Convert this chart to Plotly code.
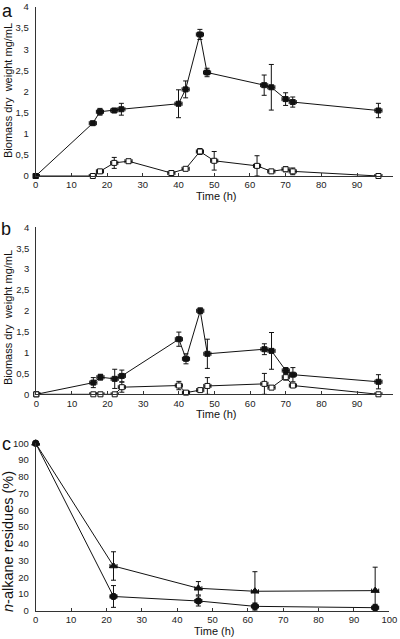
import plotly.graph_objects as go

# ---------------- data ----------------
time_a_black = [0, 16, 18, 22, 24, 40, 42, 46, 48, 64, 66, 70, 72, 96]
a_black = [0, 1.25, 1.52, 1.55, 1.58, 1.71, 2.05, 3.35, 2.45, 2.15, 2.10, 1.82, 1.75, 1.55]
a_black_err = [0, 0.04, 0.08, 0.05, 0.14, 0.33, 0.20, 0.12, 0.10, 0.24, 0.54, 0.15, 0.12, 0.17]
time_a_open = [0, 16, 18, 22, 26, 38, 42, 46, 50, 62, 66, 70, 72, 96]
a_open = [0, 0, 0.11, 0.31, 0.35, 0.07, 0.17, 0.58, 0.36, 0.24, 0.11, 0.16, 0.11, 0]
a_open_err = [0, 0.02, 0.04, 0.13, 0.03, 0.06, 0.03, 0.07, 0.22, 0.24, 0.04, 0.06, 0.08, 0.02]

time_b = [0, 16, 18, 22, 24, 40, 42, 46, 48, 64, 66, 70, 72, 96]
b_black = [0, 0.28, 0.41, 0.37, 0.44, 1.32, 0.85, 2.00, 0.97, 1.08, 1.04, 0.57, 0.47, 0.30]
b_black_err = [0, 0.12, 0.07, 0.23, 0.14, 0.17, 0.12, 0.07, 0.35, 0.13, 0.44, 0.07, 0.17, 0.17]
b_open = [0, 0, 0, 0, 0.17, 0.21, 0.04, 0.10, 0.20, 0.25, 0.16, 0.41, 0.21, 0]
b_open_err = [0, 0.02, 0.02, 0.02, 0.12, 0.10, 0.03, 0.04, 0.20, 0.25, 0.03, 0.07, 0.03, 0.02]

time_c = [0, 22, 46, 62, 96]
c_triangle = [100, 26.7, 13.4, 11.6, 12.0]
c_triangle_err = [0, 8.5, 4.0, 11.7, 14.0]
c_circle = [100, 8.5, 5.8, 2.6, 1.8]
c_circle_err = [0, 6.5, 3.0, 2.0, 2.0]

time_err = 1.0

panel_letters = ["a", "b", "c"]
x_title = "Time (h)"
y_title_ab = "Biomass dry  weight mg/mL"
y_title_c = "<i>n</i>-alkane residues (%)"

# ---------------- figure ----------------
W, H = 400, 639
FONT = "Liberation Sans, Arial, sans-serif"
INK = "#111"


def px_x(p):
    return p / W


def px_y(p):
    return 1 - p / H


fig = go.Figure()


def add_series(x, y, err, xa, ya, symbol, fill, size):
    fig.add_trace(go.Scatter(
        x=x, y=y, xaxis=xa, yaxis=ya, mode="lines+markers",
        line=dict(color=INK, width=1),
        marker=dict(symbol=symbol, size=size, color=fill,
                    line=dict(color=INK, width=1)),
        error_y=dict(type="data", array=err, visible=True, color=INK,
                     thickness=1, width=2.5),
        error_x=dict(type="constant", value=time_err, visible=True, color=INK,
                     thickness=1, width=2),
        showlegend=False, cliponaxis=False, hoverinfo="skip",
    ))


# panel a: open first, black on top
add_series(time_a_open, a_open, a_open_err, "x", "y", "square", "white", 5)
add_series(time_a_black, a_black, a_black_err, "x", "y", "square", INK, 5)
# panel b: black first, open on top
add_series(time_b, b_black, b_black_err, "x2", "y2", "square", INK, 5)
add_series(time_b, b_open, b_open_err, "x2", "y2", "square", "white", 5)
# panel c
add_series(time_c, c_triangle, c_triangle_err, "x3", "y3", "triangle-up", INK, 7)
add_series(time_c, c_circle, c_circle_err, "x3", "y3", "circle", INK, 6.5)

# domains in pixel terms
dom = {
    1: ((35.7, 392.7), (7.0, 176.0)),
    2: ((36.3, 392.7), (227.3, 394.3)),
    3: ((35.7, 389.3), (443.3, 610.7)),
}

xaxis_common = dict(range=[0, 100], dtick=10, tick0=0, showline=True,
                    linecolor="#333", linewidth=1, ticks="inside", ticklen=3,
                    tickcolor="#333", showgrid=False, zeroline=False, automargin=False,
                    tickfont=dict(family=FONT, size=9.5, color="#222"))
yaxis_common = dict(showline=True, linecolor="#333", linewidth=1, ticks="",
                    showgrid=False, zeroline=False, ticklabelstandoff=4, automargin=False,
                    tickfont=dict(family=FONT, size=9.5, color="#222"))

layout = dict(
    width=W, height=H, margin=dict(l=0, r=0, t=0, b=0, autoexpand=False),
    paper_bgcolor="white", plot_bgcolor="white", separators=", ",
    font=dict(family=FONT, color="#222"),
)
for i in (1, 2, 3):
    (x0, x1), (yt, yb) = dom[i]
    sx = "" if i == 1 else str(i)
    xa = dict(xaxis_common, domain=[px_x(x0), px_x(x1)], anchor="y" + sx)
    if i < 3:
        ya = dict(yaxis_common, range=[0, 4], dtick=0.5, tick0=0)
    else:
        ya = dict(yaxis_common, range=[0, 100], dtick=10, tick0=0)
    ya.update(domain=[px_y(yb), px_y(yt)], anchor="x" + sx)
    layout["xaxis" + sx] = xa
    layout["yaxis" + sx] = ya

fig.update_layout(**layout)

annotations = []
# panel letters
letter_pos = [(1, 0), (0, 218), (1, 433)]
for letter, (lx, ly) in zip(panel_letters, letter_pos):
    annotations.append(dict(text=letter, x=px_x(lx), y=px_y(ly), xref="paper", yref="paper",
                            xanchor="left", yanchor="top", showarrow=False, borderpad=0,
                            font=dict(family=FONT, size=18, color=INK)))
# x titles
for i in (1, 2, 3):
    (x0, x1), (yt, yb) = dom[i]
    annotations.append(dict(text=x_title, x=px_x((x0 + x1) / 2 + 2), y=px_y(yb + 20),
                            xref="paper", yref="paper", xanchor="center", yanchor="middle",
                            showarrow=False, font=dict(family=FONT, size=11, color=INK)))
# y titles
ytitle_pos = [(8, 91), (8, 318), (8, 542)]
for i, (tx, ty) in enumerate(ytitle_pos):
    annotations.append(dict(text=y_title_ab if i < 2 else y_title_c, x=px_x(tx), y=px_y(ty),
                            xref="paper", yref="paper", xanchor="center", yanchor="middle",
                            textangle=-90, showarrow=False,
                            font=dict(family=FONT, size=11 if i < 2 else 14.5, color=INK)))
fig.update_layout(annotations=annotations)

fig.write_html("out.html", config={"displayModeBar": False},
               post_script="document.body.style.margin='0';document.body.style.padding='0';")
